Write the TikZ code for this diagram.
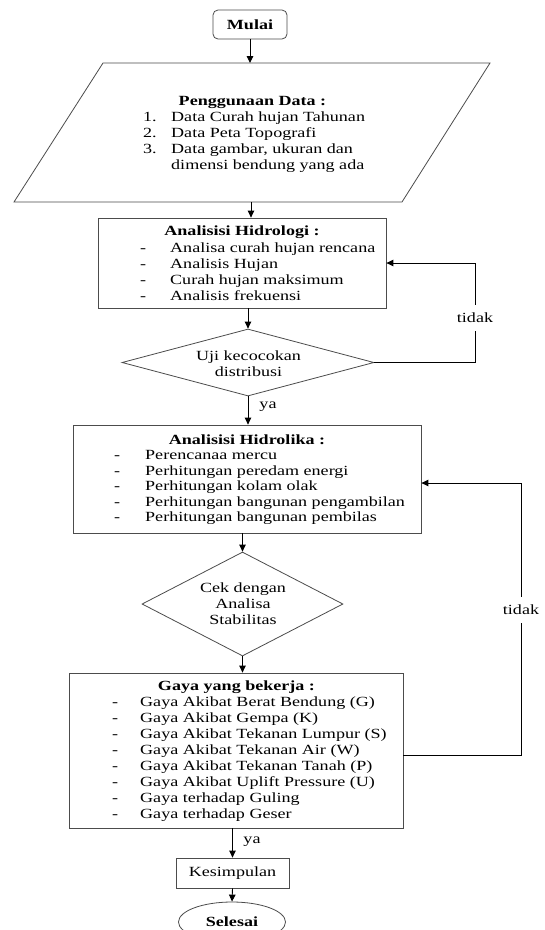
\documentclass[tikz,border=0pt]{standalone}
\usepackage{fontspec}
\setmainfont{Liberation Serif}[FakeStretch=1.29]
\usetikzlibrary{shapes.geometric,arrows.meta}
\begin{document}
\begin{tikzpicture}[x=1pt,y=-1pt,
  every node/.style={font=\fontsize{14}{16}\selectfont, inner sep=0pt},
  box/.style={draw=black!70, line width=0.8pt, rectangle},
  dia/.style={draw=black!70, line width=0.8pt, diamond},
  arr/.style={draw=black, line width=0.9pt, -{Triangle[length=7pt,width=6.5pt]}},
  ttl/.style={font=\fontsize{14}{16}\selectfont\bfseries},
  lst/.style={anchor=base west, align=left},
  lbl/.style={fill=white, inner xsep=2pt, inner ysep=8pt}]
\useasboundingbox[fill=white] (0,0) rectangle (545,930);

% start
\node[box, rounded corners=5pt, minimum width=74pt, minimum height=29pt,
      font=\fontsize{14}{16}\selectfont\bfseries] (mulai) at (250,24.5) {Mulai};

% data (parallelogram)
\draw[draw=black!70, line width=0.8pt] (103,63) -- (490,63) -- (402,202) -- (14,202) -- cycle;
\coordinate (dtop) at (251,63);
\coordinate (dbot) at (251,202);
\node[ttl] (dttl) at (252.5,102) {Penggunaan Data :};
\node[lst] (dlst) at (143,121.5) {\begin{tabular}[t]{@{}p{28pt}@{}l@{}}
1. & Data Curah hujan Tahunan\\
2. & Data Peta Topografi\\
3. & Data gambar, ukuran dan\\
   & dimensi bendung yang ada
\end{tabular}};

% hidrologi
\node[box, minimum width=288pt, minimum height=90pt] (hid) at (242,263) {};
\node[ttl] (hidt) at (242,232) {Analisisi Hidrologi :};
\node[lst] (hidl) at (140,252.5) {\begin{tabular}[t]{@{}p{30pt}@{}l@{}}
- & Analisa curah hujan rencana\\
- & Analisis Hujan\\
- & Curah hujan maksimum\\
- & Analisis frekuensi
\end{tabular}};

% decision 1
\node[dia, minimum width=252pt, minimum height=67pt] (d1) at (248,362.5) {};
\node[align=center] (d1t) at (248.5,364) {Uji kecocokan\\distribusi};

% hidrolika
\node[box, minimum width=348pt, minimum height=108pt] (hyd) at (247,479) {};
\node[ttl] (hydt) at (247,440) {Analisisi Hidrolika :};
\node[lst, font=\fontsize{14}{15.5}\selectfont] (hydl) at (114,459.5) {\begin{tabular}[t]{@{}p{31pt}@{}l@{}}
- & Perencanaa mercu\\
- & Perhitungan peredam energi\\
- & Perhitungan kolam olak\\
- & Perhitungan bangunan pengambilan\\
- & Perhitungan bangunan pembilas
\end{tabular}};

% decision 2
\node[dia, minimum width=201pt, minimum height=104pt] (d2) at (242.5,604) {};
\node[align=center] (d2t) at (243,604) {Cek dengan\\Analisa\\Stabilitas};

% gaya
\node[box, minimum width=334pt, minimum height=155pt] (gaya) at (236,750.5) {};
\node[ttl] (gayat) at (236.5,687) {Gaya yang bekerja :};
\node[lst] (gayal) at (112,706.5) {\begin{tabular}[t]{@{}p{28pt}@{}l@{}}
- & Gaya Akibat Berat Bendung (G)\\
- & Gaya Akibat Gempa (K)\\
- & Gaya Akibat Tekanan Lumpur (S)\\
- & Gaya Akibat Tekanan Air (W)\\
- & Gaya Akibat Tekanan Tanah (P)\\
- & Gaya Akibat Uplift Pressure (U)\\
- & Gaya terhadap Guling\\
- & Gaya terhadap Geser
\end{tabular}};

% conclusion and end
\node[box, minimum width=113pt, minimum height=30pt] (kes) at (232.5,873) {Kesimpulan};
\node[draw=black!70, line width=0.8pt, ellipse, minimum width=107pt, minimum height=40pt,
      font=\fontsize{14}{16}\selectfont\bfseries] (sel) at (232,922) {Selesai};

% connectors
\draw[arr] (mulai.south) -- (mulai.south |- dtop);
\draw[arr] (dbot) -- (dbot |- hid.north);
\draw[arr] (d1.north |- hid.south) -- (d1.north);
\draw[arr] (d1.south) -- (d1.south |- hyd.north);
\node (ya1) at (268,407) {ya};
\draw[arr] (d2.north |- hyd.south) -- (d2.north);
\draw[arr] (d2.south) -- (d2.south |- gaya.north);
\draw[arr] (kes.north |- gaya.south) -- (kes.north);
\node (ya2) at (252,842) {ya};
\draw[arr] (kes.south) -- (sel.north);

% loops
\coordinate (l1a) at (475,362.5);
\coordinate (l1b) at (475,263);
\draw[arr] (d1.east) -- (l1a) -- node[lbl,pos=0.45] (t1) {tidak} (l1b) -- (hid.east);
\coordinate (l2a) at (521,755);
\coordinate (l2b) at (521,483);
\draw[arr] (gaya.east |- l2a) -- (l2a) -- node[lbl,pos=0.533] (t2) {tidak} (l2b) -- (hyd.east |- l2b);
\end{tikzpicture}
\end{document}
